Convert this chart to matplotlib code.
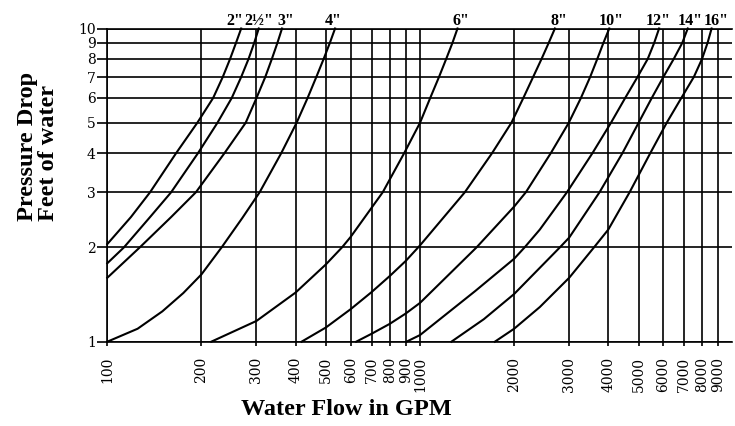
import matplotlib
matplotlib.use("Agg")
import matplotlib.pyplot as plt
from matplotlib.ticker import FixedLocator, FixedFormatter, NullLocator

# Pressure drop (feet of water) against water flow (GPM), one curve per pipe size
pipe_labels = ['2"', '2½"', '3"', '4"', '6"', '8"', '10"', '12"', '14"', '16"']

flow_2 = [100, 119, 137, 166, 194, 218, 234, 247, 258, 268]
drop_2 = [2.05, 2.5, 3, 4, 5, 6, 7, 8, 9, 10]

flow_2h = [100, 113, 137, 160, 195, 225, 250, 268, 283, 295, 305]
drop_2h = [1.78, 2, 2.5, 3, 4, 5, 6, 7, 8, 9, 10]

flow_3 = [100, 127, 160, 192, 237, 277, 300, 320, 336, 350, 362]
drop_3 = [1.60, 2, 2.5, 3, 4, 5, 6, 7, 8, 9, 10]

flow_4 = [100, 125, 150, 175, 200, 232, 270, 307, 360, 403, 437, 466, 492, 515, 535]
drop_4 = [1, 1.10, 1.25, 1.43, 1.64, 2, 2.48, 3, 4, 5, 6, 7, 8, 9, 10]

flow_6 = [215, 300, 400, 500, 563, 600, 760, 890, 1000, 1078, 1150, 1213, 1270, 1318]
drop_6 = [1, 1.165, 1.435, 1.765, 2, 2.16, 3, 4, 5, 6, 7, 8, 9, 10]

flow_8 = [418, 500, 600, 700, 800, 900, 1000, 1391, 1700, 1960, 2140, 2300, 2448, 2580, 2700]
drop_8 = [1, 1.11, 1.27, 1.44, 1.62, 1.81, 2.03, 3, 4, 5, 6, 7, 8, 9, 10]

flow_10 = [625, 700, 800, 900, 1000, 1516, 2000, 2180, 2620, 2990, 3270, 3500, 3690, 3860, 4030]
drop_10 = [1, 1.06, 1.14, 1.23, 1.33, 2, 2.70, 3, 4, 5, 6, 7, 8, 9, 10]

flow_12 = [905, 1000, 1500, 2000, 2160, 2416, 2950, 3560, 4080, 4530, 4960, 5350, 5610, 5815]
drop_12 = [1, 1.05, 1.45, 1.84, 2, 2.28, 3, 4, 5, 6, 7, 8, 9, 10]

flow_14 = [1260, 1600, 2000, 2800, 3000, 3750, 4440, 5000, 5510, 6000, 6480, 6900, 7180]
drop_14 = [1, 1.18, 1.42, 2, 2.15, 3, 4, 5, 6, 7, 8, 9, 10]

flow_16 = [1735, 2000, 2416, 3000, 3600, 4000, 4680, 5450, 6150, 6850, 7510, 7980, 8310, 8560]
drop_16 = [1, 1.10, 1.29, 1.60, 2, 2.28, 3, 4, 5, 6, 7, 8, 9, 10]

flows = [flow_2, flow_2h, flow_3, flow_4, flow_6, flow_8, flow_10, flow_12, flow_14, flow_16]
drops = [drop_2, drop_2h, drop_3, drop_4, drop_6, drop_8, drop_10, drop_12, drop_14, drop_16]

x_ticks = [100, 200, 300, 400, 500, 600, 700, 800, 900,
           1000, 2000, 3000, 4000, 5000, 6000, 7000, 8000, 9000]
y_ticks = [1, 2, 3, 4, 5, 6, 7, 8, 9, 10]

# horizontal nudges (pixels) of the size labels from the top of their curve
label_nudge = [-6, 0, 4, -1.6, 3.5, 4, 2, -1, 2, 5]

plt.rcParams['font.family'] = ['DejaVu Serif']

fig = plt.figure(figsize=(7.35, 4.26), dpi=100)
ax = fig.add_axes([107.3 / 735, (426 - 341.7) / 426, 624.4 / 735, 313.2 / 426])

ax.set_xscale('log')
ax.set_yscale('log')
ax.set_xlim(100, 9926)
ax.set_ylim(1, 10)

ax.xaxis.set_major_locator(FixedLocator(x_ticks))
ax.xaxis.set_major_formatter(FixedFormatter([str(v) for v in x_ticks]))
ax.xaxis.set_minor_locator(NullLocator())
ax.yaxis.set_major_locator(FixedLocator(y_ticks))
ax.yaxis.set_major_formatter(FixedFormatter([str(v) for v in y_ticks]))
ax.yaxis.set_minor_locator(NullLocator())

ax.grid(True, which='major', color='black', linewidth=1.2)
for side in ['left', 'bottom', 'top']:
    ax.spines[side].set_linewidth(1.2)
ax.spines['right'].set_visible(False)

ax.tick_params(axis='x', direction='out', length=3, width=1.2, pad=7.8,
               labelsize=10, labelrotation=90)
ax.tick_params(axis='y', direction='out', length=7.2, width=1.2, pad=1,
               labelsize=10)

for fx, dy in zip(flows, drops):
    ax.plot(fx, dy, color='black', linewidth=1.5, clip_on=False)

for lab, fx, dy, nudge in zip(pipe_labels, flows, drops, label_nudge):
    ax.annotate(lab, xy=(fx[-1], dy[-1]), xytext=(nudge * 0.72, 2.2),
                textcoords='offset points', ha='center', va='baseline',
                fontsize=11.5, fontweight='bold', family='Liberation Serif',
                annotation_clip=False)

fig.text(38 / 735, (426 - 221) / 426, "Pressure Drop\nFeet of water",
         rotation=90, ha='center', va='bottom', multialignment='left',
         linespacing=1.0, fontsize=17.5, fontweight='bold',
         family='Liberation Serif')
fig.text(346.7 / 735, (426 - 415) / 426, "Water Flow in GPM",
         ha='center', va='baseline', fontsize=17.5, fontweight='bold',
         family='Liberation Serif')

fig.savefig('out.png', dpi=100)
plt.close(fig)
